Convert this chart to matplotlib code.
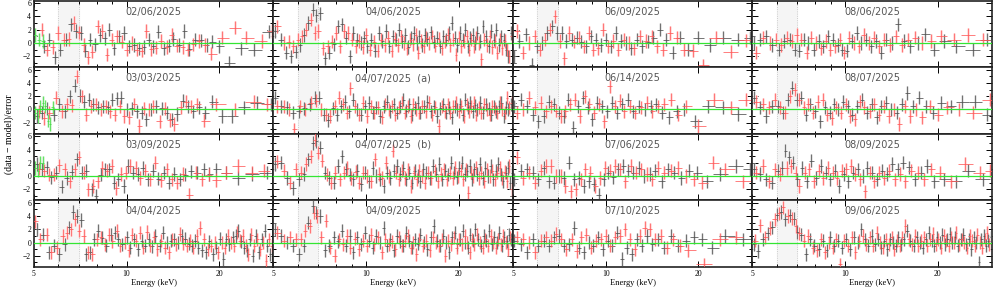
import matplotlib
matplotlib.use("Agg")
import matplotlib.pyplot as plt
import numpy as np
from matplotlib.ticker import FixedLocator, NullFormatter

# panel titles, row by row
dates = ["02/06/2025", "04/06/2025", "06/09/2025", "08/06/2025",
         "03/03/2025", "04/07/2025  (a)", "06/14/2025", "08/07/2025",
         "03/09/2025", "04/07/2025  (b)", "07/06/2025", "08/09/2025",
         "04/04/2025", "04/09/2025", "07/10/2025", "09/06/2025"]

# (energy keV, (data-model)/error)
g0206 = [(5.05, 1.2), (5.2, 0.5), (5.35, 0.3)]
k0206 = [(5.4, -0.5), (5.6, 0.5), (5.85, -2.2), (6.1, -1.0), (6.35, 0.5), (6.6, 2.8), (6.85, 1.8), (7.1, 1.5),
         (7.35, -1.2), (7.6, 0.5), (7.9, -0.2), (8.2, 1.2), (8.5, 0.7), (8.8, 2.0), (9.1, -0.8), (9.45, 1.0),
         (9.8, 1.5), (10.2, -0.5), (10.6, -0.3), (11.0, -0.8), (11.4, -0.6), (11.8, 0.5), (12.2, -0.5), (12.7, 1.7),
         (13.2, -0.8), (13.7, -0.4), (14.2, 0.6), (14.8, -0.3), (15.4, 1.8), (16.0, -0.9), (16.7, 0.5), (17.4, 0.4),
         (18.2, -0.3), (19.0, 0.2), (20.0, -0.5), (21.5, -3.0), (23.5, -0.8), (26.0, -1.0), (29.0, 1.7)]
r0206 = [(5.3, 2.0), (5.5, -1.0), (5.75, -0.6), (6.0, 1.5), (6.25, 0.5), (6.5, 0.6), (6.75, 3.0), (7.0, 1.6),
         (7.25, -0.3), (7.5, -2.2), (7.75, -1.3), (8.05, 2.5), (8.35, 1.8), (8.65, -1.8), (8.95, 0.5), (9.3, 1.0),
         (9.65, 0.2), (10.0, -1.0), (10.4, 0.0), (10.8, -1.0), (11.2, -1.2), (11.6, 1.8), (12.0, -0.9), (12.5, -0.7),
         (12.9, 0.3), (13.5, -0.6), (14.0, 1.2), (14.6, -0.4), (15.2, -0.6), (15.8, -1.0), (16.5, -0.2), (17.2, 0.3),
         (18.0, -0.3), (18.8, -1.6), (20.5, 0.8), (22.5, 2.3), (24.5, 0.8), (27.5, 0.3), (29.6, 1.8)]

g0303 = [(5.05, -0.5), (5.15, -1.0), (5.25, 0.5), (5.35, 1.0), (5.45, 0.5), (5.55, -1.7), (5.65, -2.2), (5.75, 0.3)]
k0303 = [(5.1, -1.0), (5.3, -0.5), (5.5, 0.1), (5.8, -0.8), (6.05, 0.8), (6.3, -0.3), (6.55, 2.0), (6.8, 3.6),
         (7.05, 2.1), (7.3, 1.2), (7.55, 1.5), (7.8, 0.8), (8.1, 0.3), (8.4, 0.5), (8.7, 0.3), (9.0, 1.5),
         (9.3, 1.7), (9.6, 1.8), (10.0, 0.0), (10.4, 0.2), (10.8, -0.3), (11.2, -0.5), (11.6, -1.5), (12.0, 0.0),
         (12.5, 0.5), (13.0, 0.2), (13.5, -0.5), (14.0, -1.5), (14.6, -0.7), (15.2, 1.3), (15.8, 0.5), (16.5, -0.3),
         (17.2, 0.3), (18.0, -0.5), (19.0, 1.2), (20.5, -1.0), (22.0, -1.0), (24.0, 0.3), (26.5, 1.0), (29.5, 0.8)]
r0303 = [(5.2, -0.3), (5.4, -1.3), (5.6, -0.5), (5.9, 1.8), (6.15, -0.3), (6.4, 0.8), (6.65, 0.6), (6.9, 5.0),
         (7.15, 2.0), (7.4, -0.8), (7.65, 0.5), (7.95, 0.8), (8.25, 0.0), (8.55, 0.5), (8.85, -0.3), (9.15, -0.8),
         (9.5, 0.5), (9.8, -1.0), (10.2, -1.2), (10.6, 0.8), (11.0, -2.5), (11.4, 0.2), (11.8, 0.0), (12.2, 0.5),
         (12.8, -1.8), (13.3, 0.2), (13.8, -1.6), (14.3, -2.2), (15.0, 0.3), (15.6, 1.2), (16.2, 0.5), (17.0, 0.8),
         (17.8, -1.7), (19.5, 0.8), (22.5, 0.0), (26.0, 1.2), (28.5, 0.8)]

g0309 = [(5.05, 1.2), (5.15, 0.8), (5.25, 2.0), (5.35, 2.0)]
k0309 = [(5.1, 1.8), (5.3, 1.0), (5.5, 1.3), (5.7, -0.2), (5.9, 0.5), (6.15, -1.6), (6.4, -0.3), (6.65, 0.6),
         (6.9, 2.5), (7.15, 0.5), (7.4, 0.8), (7.7, -2.0), (7.95, -3.0), (8.25, 0.2), (8.5, 1.0), (8.8, 1.0),
         (9.1, -1.0), (9.4, -0.5), (9.8, -1.5), (10.1, 1.5), (10.5, 0.5), (10.9, 0.3), (11.3, 1.2), (11.7, -0.5),
         (12.2, 0.8), (12.7, -0.4), (13.2, 0.5), (13.7, -1.0), (14.3, 0.3), (14.9, -0.5), (15.5, 0.2), (16.2, 0.7),
         (17.0, 0.5), (17.8, 1.0), (18.6, 0.3), (19.5, 1.0), (21.0, 0.5), (23.0, -0.3), (25.5, 0.3), (28.5, 0.5)]
r0309 = [(5.2, 1.1), (5.4, 0.8), (5.6, 0.2), (5.8, 0.2), (6.05, 1.6), (6.3, 1.0), (6.55, -0.8), (6.8, 1.0),
         (7.0, 2.8), (7.25, 0.5), (7.5, -2.0), (7.8, -1.5), (8.05, -0.8), (8.35, 1.2), (8.65, 0.8), (8.95, 1.5),
         (9.25, -1.8), (9.6, 0.3), (9.95, 0.5), (10.3, 1.5), (10.7, 1.2), (11.1, -0.3), (11.5, 0.8), (11.9, -0.5),
         (12.4, 2.0), (12.9, -0.6), (13.5, 1.0), (14.0, -0.5), (14.6, -1.0), (15.2, 0.3), (16.0, -2.8), (16.8, 0.5),
         (17.6, -0.5), (18.5, 0.2), (19.5, -0.6), (21.0, 0.5), (23.0, 1.5), (25.5, 0.5), (28.0, 0.8)]

k0404 = [(5.1, 2.0), (5.35, 1.2), (5.6, -1.5), (5.8, -0.5), (6.05, -1.8), (6.3, -0.3), (6.5, 2.3), (6.7, 4.6),
         (6.9, 4.0), (7.1, 3.4), (7.4, -1.8), (7.6, -1.5), (7.85, 0.5), (8.1, 1.8), (8.35, 0.7), (8.6, -0.5),
         (8.9, 1.2), (9.15, 1.5), (9.4, 0.5), (9.7, -0.3), (10.0, 0.8), (10.3, -0.8), (10.6, 0.5), (10.9, -1.0),
         (11.2, 0.3), (11.5, -0.5), (11.8, 0.5), (12.1, -0.6), (12.4, 1.0), (12.8, -0.5), (13.1, 1.5), (13.5, 0.0),
         (13.9, 0.3), (14.3, 0.5), (14.7, 0.0), (15.1, 1.0), (15.5, 0.6), (15.9, -0.2), (16.3, -0.5), (16.7, 0.3),
         (17.1, -0.8), (17.6, -1.2), (18.1, -1.5), (18.6, 0.2), (19.1, -1.8), (19.6, -0.8), (20.1, 0.6), (20.6, -2.5),
         (21.1, 0.5), (21.6, -0.3), (22.1, 0.8), (22.6, 1.0), (23.1, 1.8), (23.6, 0.2), (24.1, -0.8), (24.6, -1.2),
         (25.1, 0.5), (25.7, -2.0), (26.3, 1.0), (26.9, -1.5), (27.5, 0.5), (28.1, 1.8), (28.7, -0.5), (29.3, -1.8),
         (29.9, 1.8)]
r0404 = [(5.05, 3.2), (5.25, 0.5), (5.5, 1.2), (5.7, -1.5), (5.95, -0.8), (6.2, 1.0), (6.4, 1.5), (6.6, 2.0),
         (6.8, 3.5), (7.0, 1.8), (7.25, 1.0), (7.5, -1.5), (7.75, -1.8), (8.0, 0.5), (8.25, 0.8), (8.5, -0.3),
         (8.75, 1.2), (9.0, 0.2), (9.3, 1.8), (9.55, -0.5), (9.85, 0.0), (10.15, -1.2), (10.45, 1.2), (10.75, 0.3),
         (11.05, 1.5), (11.35, -0.8), (11.65, 1.6), (11.95, -0.5), (12.25, 0.8), (12.6, -1.0), (12.95, 0.3), (13.3, -0.8),
         (13.7, -1.5), (14.1, 0.5), (14.5, -0.3), (14.9, 1.3), (15.3, -0.2), (15.7, -0.5), (16.1, 0.3), (16.5, -0.8),
         (16.9, 1.0), (17.35, 2.2), (17.85, 0.5), (18.35, -1.0), (18.85, -0.5), (19.35, 0.0), (19.85, -1.5), (20.35, 0.0),
         (20.85, -0.8), (21.35, 1.0), (21.85, 0.0), (22.35, -0.5), (22.85, 1.5), (23.35, 0.3), (23.85, 1.0), (24.35, -0.5),
         (24.85, -1.8), (25.4, 1.2), (26.0, -0.5), (26.6, 0.5), (27.2, -1.0), (27.8, 0.0), (28.4, -2.8), (29.0, 0.5),
         (29.6, -0.5)]

k0406 = [(5.05, 1.8), (5.3, 0.5), (5.5, -1.5), (5.7, -2.0), (5.9, -1.3), (6.1, -0.3), (6.3, 1.2), (6.5, 3.0),
         (6.7, 5.0), (6.9, 4.2), (7.1, 4.5), (7.35, -2.3), (7.6, -1.5), (7.85, -0.2), (8.1, 2.5), (8.35, 2.8),
         (8.6, 0.8), (8.85, -2.0), (9.1, 1.5), (9.35, 0.5), (9.6, 0.0), (9.85, 0.8), (10.1, -0.5), (10.4, 0.5),
         (10.7, -1.2), (11.0, 1.5), (11.3, 0.3), (11.6, 1.8), (11.9, -0.5), (12.2, 1.0), (12.5, 0.5), (12.8, 2.0),
         (13.1, 0.3), (13.4, 1.2), (13.7, -0.6), (14.0, 0.8), (14.3, 1.5), (14.6, 0.0), (14.9, 1.0), (15.2, -0.3),
         (15.5, 1.2), (15.8, 0.6), (16.2, 1.6), (16.6, 0.2), (17.0, 0.8), (17.4, -0.5), (17.8, 1.0), (18.2, 0.5),
         (18.6, 1.5), (19.0, 3.0), (19.4, 0.8), (19.8, -0.3), (20.2, 1.5), (20.6, 0.5), (21.0, 2.0), (21.4, -0.5),
         (21.8, 0.8), (22.2, 1.2), (22.6, 0.0), (23.0, 1.5), (23.5, 0.3), (24.0, 2.5), (24.5, 1.0), (25.0, -0.5),
         (25.5, 1.8), (26.0, 0.5), (26.5, 2.0), (27.0, -0.3), (27.5, 1.0), (28.0, 0.5), (28.5, -1.0), (29.0, -2.0),
         (29.5, 1.5)]
r0406 = [(5.15, 2.5), (5.4, 0.0), (5.6, 0.2), (5.8, -0.5), (6.0, 0.5), (6.2, 1.0), (6.4, 2.0), (6.6, 3.5),
         (6.8, 1.5), (7.0, 1.8), (7.25, -0.8), (7.5, -0.5), (7.75, 0.2), (8.0, 1.5), (8.25, -0.5), (8.5, 1.8),
         (8.75, 1.5), (9.0, 0.5), (9.25, -0.5), (9.5, 0.3), (9.75, -0.6), (10.0, 1.2), (10.3, -1.0), (10.6, 0.2),
         (10.9, -1.2), (11.2, 0.5), (11.5, -0.3), (11.8, 0.8), (12.1, -1.2), (12.4, 0.6), (12.7, -0.3), (13.0, 1.0),
         (13.3, 0.0), (13.6, -0.8), (13.9, 0.5), (14.2, -0.2), (14.5, 1.2), (14.8, -1.5), (15.1, 0.3), (15.4, -0.5),
         (15.7, 0.8), (16.0, 0.0), (16.4, 1.0), (16.8, -0.4), (17.2, 0.6), (17.6, -0.8), (18.0, 0.2), (18.4, 1.2),
         (18.8, -0.3), (19.2, 0.5), (19.6, -1.8), (20.0, 0.8), (20.4, -0.5), (20.8, 0.3), (21.2, 1.0), (21.6, -1.0),
         (22.0, 0.5), (22.4, -0.5), (22.8, 0.8), (23.2, 0.0), (23.7, -2.5), (24.2, 0.5), (24.7, -0.3), (25.2, 1.0),
         (25.7, -0.6), (26.2, 0.3), (26.7, -1.5), (27.2, 0.5), (27.7, -0.8), (28.2, 0.3), (28.7, -1.0), (29.2, -2.0),
         (29.7, 1.0)]

k0407a = [(5.05, 1.8), (5.3, 0.5), (5.55, 0.3), (5.8, -0.5), (6.05, -0.3), (6.3, 0.2), (6.55, 0.8), (6.8, 1.8),
          (7.05, 1.8), (7.3, -0.8), (7.55, -1.6), (7.8, 0.2), (8.05, -0.8), (8.3, 0.5), (8.55, 1.2), (8.8, -0.3),
          (9.1, 1.5), (9.35, 0.0), (9.6, -0.8), (9.9, 0.5), (10.2, 1.0), (10.5, -0.5), (10.8, 0.3), (11.1, -1.0),
          (11.4, 0.5), (11.7, 1.2), (12.0, -0.3), (12.3, 0.8), (12.6, -0.5), (12.9, 0.5), (13.2, 1.5), (13.5, -0.2),
          (13.8, 0.8), (14.1, -0.8), (14.4, 0.3), (14.7, 1.0), (15.0, -0.5), (15.4, 0.5), (15.8, 1.2), (16.2, -0.3),
          (16.6, 0.5), (17.0, -1.0), (17.4, 0.2), (17.8, 0.8), (18.2, -0.5), (18.6, 0.3), (19.0, -1.2), (19.4, 0.5),
          (19.8, 0.0), (20.2, 0.8), (20.6, -0.8), (21.0, 1.5), (21.4, 0.3), (21.8, 1.0), (22.2, -0.3), (22.6, 0.6),
          (23.0, 0.0), (23.5, 1.0), (24.0, -0.5), (24.5, 0.8), (25.0, 0.2), (25.5, -0.8), (26.0, 0.5), (26.5, -0.3),
          (27.0, 0.5), (27.5, 1.0), (28.0, -1.0), (28.5, 0.3), (29.0, 0.0), (29.5, 0.8)]
r0407a = [(5.15, 0.5), (5.4, 0.4), (5.6, 0.0), (5.85, -3.0), (6.1, 0.5), (6.35, 0.0), (6.6, 1.0), (6.9, 1.3),
          (7.15, 0.0), (7.4, -0.8), (7.65, -1.0), (7.9, 0.5), (8.15, 1.8), (8.4, 0.8), (8.65, -0.5), (8.9, 3.2),
          (9.2, 0.5), (9.45, -0.8), (9.75, 1.0), (10.05, -1.0), (10.35, 0.5), (10.65, -0.5), (10.95, 0.3), (11.25, -1.2),
          (11.55, 0.8), (11.85, 0.0), (12.15, 0.5), (12.45, -0.8), (12.75, 0.3), (13.05, 1.0), (13.35, -0.5), (13.65, 0.5),
          (13.95, -1.0), (14.25, 0.8), (14.55, 0.0), (14.85, -0.5), (15.2, 0.5), (15.6, -0.3), (16.0, 1.0), (16.4, -0.8),
          (16.8, 0.3), (17.2, -2.5), (17.6, 0.5), (18.0, -0.3), (18.4, 0.8), (18.8, -0.5), (19.2, 0.5), (19.6, 1.0),
          (20.0, -0.3), (20.4, 0.5), (20.8, -1.0), (21.2, 0.8), (21.6, -0.3), (22.0, 0.5), (22.4, 1.0), (22.8, -0.8),
          (23.2, 0.3), (23.7, -0.5), (24.2, 0.8), (24.7, 0.0), (25.2, -0.8), (25.7, 0.5), (26.2, 0.2), (26.7, -0.5),
          (27.2, 1.0), (27.7, 0.0), (28.2, -0.5), (28.7, 1.8), (29.2, 0.3), (29.7, 1.0)]

k0407b = [(5.05, 1.8), (5.3, 2.0), (5.55, -0.3), (5.8, -1.8), (6.05, -0.5), (6.3, 0.3), (6.5, 2.5), (6.7, 5.0),
          (6.9, 5.3), (7.1, 4.3), (7.35, 0.5), (7.6, -0.3), (7.85, -1.0), (8.1, 1.5), (8.35, 3.0), (8.6, 1.0),
          (8.85, 0.2), (9.1, -0.5), (9.35, 0.8), (9.6, -1.2), (9.9, 0.5), (10.2, -0.8), (10.5, 1.2), (10.8, 0.0),
          (11.1, -0.5), (11.4, -1.5), (11.7, 0.5), (12.0, -0.3), (12.3, 0.8), (12.6, 1.5), (12.9, 0.3), (13.2, 1.2),
          (13.5, -0.5), (13.8, 0.5), (14.1, -1.0), (14.4, 0.8), (14.7, 0.0), (15.0, -0.8), (15.3, 1.0), (15.7, 0.5),
          (16.1, -0.3), (16.5, 1.5), (16.9, 0.3), (17.3, 1.8), (17.7, -0.5), (18.1, 0.8), (18.5, 0.2), (18.9, 2.0),
          (19.3, 0.5), (19.7, -0.2), (20.1, 1.2), (20.5, 2.0), (20.9, 0.3), (21.3, 0.8), (21.7, 1.5), (22.1, -0.5),
          (22.5, 1.0), (22.9, 0.3), (23.4, 1.8), (23.9, -0.3), (24.4, 1.2), (24.9, 0.0), (25.4, 1.5), (25.9, -0.5),
          (26.4, 0.8), (26.9, 1.8), (27.4, 0.2), (27.9, -0.8), (28.4, 0.5), (28.9, 1.2), (29.4, -1.0), (29.9, 0.5)]
r0407b = [(5.15, 2.2), (5.4, 0.8), (5.65, -1.0), (5.9, 1.0), (6.15, 0.5), (6.4, 1.8), (6.6, 3.0), (6.8, 5.5),
          (7.0, 3.5), (7.2, 2.3), (7.45, 0.2), (7.7, -1.0), (7.95, 0.5), (8.2, -0.5), (8.45, 0.5), (8.7, 1.2),
          (8.95, -0.3), (9.25, 0.6), (9.5, -1.0), (9.8, 0.5), (10.1, 0.0), (10.4, -0.8), (10.7, 2.5), (11.0, 0.3),
          (11.3, -0.3), (11.6, 2.0), (11.9, 0.0), (12.2, 3.8), (12.5, 0.5), (12.8, -0.5), (13.1, 0.8), (13.4, -0.3),
          (13.7, 1.0), (14.0, -1.5), (14.3, 0.5), (14.6, -0.5), (14.9, 0.8), (15.2, 0.0), (15.5, -1.0), (15.9, 0.5),
          (16.3, -0.3), (16.7, 0.8), (17.1, -0.8), (17.5, 0.3), (17.9, 1.0), (18.3, -0.5), (18.7, 0.5), (19.1, -0.3),
          (19.5, 1.2), (19.9, 0.0), (20.3, 0.8), (20.7, -0.5), (21.1, 1.0), (21.5, -2.5), (21.9, 0.5), (22.3, 0.0),
          (22.7, 1.3), (23.2, -0.3), (23.7, 0.5), (24.2, -0.8), (24.7, 1.0), (25.2, 0.0), (25.7, 0.8), (26.2, -0.5),
          (26.7, 0.5), (27.2, 1.2), (27.7, -0.3), (28.2, 0.6), (28.7, -0.8), (29.2, 1.5), (29.7, -2.0)]

k0409 = [(5.05, 2.0), (5.3, 1.0), (5.55, 0.0), (5.8, -0.5), (6.05, -1.8), (6.3, -0.5), (6.5, 3.0), (6.7, 5.5),
         (6.9, 4.5), (7.1, 4.0), (7.35, -1.2), (7.6, -0.5), (7.85, 0.8), (8.1, 0.2), (8.35, 1.8), (8.6, -0.5),
         (8.85, 1.0), (9.1, -1.5), (9.35, 0.8), (9.6, -0.3), (9.9, 1.5), (10.2, 0.3), (10.5, -0.8), (10.8, 1.0),
         (11.1, 0.0), (11.4, 2.2), (11.7, -0.5), (12.0, 0.5), (12.3, -1.2), (12.6, 1.0), (12.9, 0.2), (13.2, -0.5),
         (13.5, 1.5), (13.8, 0.3), (14.1, -0.8), (14.4, 0.5), (14.7, -0.2), (15.0, 1.2), (15.4, 0.0), (15.8, -1.0),
         (16.2, 0.8), (16.6, 2.5), (17.0, 0.3), (17.4, -0.5), (17.8, 1.0), (18.2, 0.0), (18.6, -1.5), (19.0, 0.8),
         (19.4, 1.5), (19.8, -0.3), (20.2, 0.5), (20.6, 1.8), (21.0, 0.0), (21.4, -0.8), (21.8, 1.2), (22.2, 0.3),
         (22.6, 2.0), (23.1, 0.5), (23.6, -0.5), (24.1, 1.0), (24.6, 0.3), (25.1, 1.8), (25.6, -0.3), (26.1, 0.8),
         (26.6, 0.0), (27.1, 1.5), (27.6, -0.5), (28.1, 0.8), (28.6, 0.2), (29.1, 1.2), (29.6, 0.5)]
r0409 = [(5.15, 1.5), (5.4, 0.3), (5.65, 0.8), (5.9, 0.5), (6.15, 0.5), (6.35, 1.8), (6.55, 2.5), (6.75, 4.5),
         (6.95, 4.0), (7.15, 0.8), (7.4, 3.3), (7.65, -0.8), (7.9, -2.0), (8.15, 0.5), (8.4, -0.3), (8.65, 1.0),
         (8.9, -0.8), (9.2, 0.6), (9.45, -1.0), (9.75, 0.3), (10.05, -0.5), (10.35, 1.2), (10.65, -0.3), (10.95, 0.8),
         (11.25, -1.5), (11.55, 0.5), (11.85, -0.3), (12.15, 0.2), (12.45, -1.0), (12.75, 0.8), (13.05, -0.5), (13.35, 0.3),
         (13.65, 1.0), (13.95, -0.8), (14.25, 0.0), (14.55, -1.8), (14.9, 0.5), (15.3, -0.5), (15.7, 0.3), (16.1, -1.2),
         (16.5, 0.8), (16.9, 0.0), (17.3, -0.5), (17.7, 0.5), (18.1, -2.0), (18.5, 0.3), (18.9, -0.3), (19.3, 0.8),
         (19.7, -0.8), (20.1, 0.5), (20.5, -0.3), (20.9, 1.0), (21.3, 0.0), (21.7, -1.5), (22.1, 0.5), (22.5, -0.3),
         (22.9, 1.2), (23.4, 0.0), (23.9, -0.8), (24.4, 0.5), (24.9, -0.5), (25.4, 1.0), (25.9, 0.0), (26.4, -0.8),
         (26.9, 0.5), (27.4, -0.3), (27.9, 1.0), (28.4, 0.0), (28.9, -1.0), (29.4, 0.8)]

k0609 = [(5.05, -2.0), (5.25, 0.3), (5.5, 1.3), (5.75, -3.3), (6.0, -0.5), (6.2, 0.0), (6.45, 1.5), (6.7, 2.5),
         (6.95, 1.5), (7.2, 1.5), (7.45, 0.3), (7.75, 0.5), (8.05, 0.8), (8.35, 0.2), (8.65, -0.5), (8.95, 1.0),
         (9.3, 0.5), (9.65, -0.3), (10.0, 0.5), (10.4, -0.5), (10.8, 1.5), (11.2, 0.3), (11.65, 0.0), (12.1, -0.8),
         (12.6, 0.5), (13.1, -0.5), (13.7, 0.2), (14.3, 0.8), (15.0, 2.0), (15.7, 0.5), (16.5, -1.5), (17.4, 0.8),
         (18.5, -1.0), (20.0, 0.8), (21.8, -0.3), (24.0, 0.8), (27.0, 0.5), (29.5, 0.8)]
r0609 = [(5.15, 1.8), (5.4, -1.5), (5.65, 0.0), (5.9, 1.0), (6.1, -1.0), (6.35, 0.5), (6.6, 2.0), (6.85, 4.0),
         (7.1, 0.3), (7.35, -2.3), (7.6, 1.5), (7.9, 0.2), (8.2, 0.8), (8.5, -0.5), (8.8, 1.5), (9.1, -1.0),
         (9.45, -0.8), (9.8, 2.0), (10.2, -0.5), (10.6, 0.3), (11.0, -1.0), (11.45, 0.5), (11.9, 0.0), (12.4, -0.8),
         (12.9, 1.0), (13.5, 0.3), (14.1, 1.0), (14.7, -0.5), (15.4, -1.0), (16.2, 1.5), (17.0, 0.8), (18.0, -1.0),
         (19.2, -1.2), (20.7, -3.4), (22.8, 0.8), (25.5, -1.3), (28.5, 0.4)]

k0614 = [(5.05, 0.5), (5.3, 1.5), (5.55, 0.5), (5.8, -0.8), (6.05, -1.8), (6.3, -1.0), (6.55, 1.2), (6.8, 0.8),
         (7.05, -0.5), (7.3, -1.0), (7.55, 1.5), (7.85, -2.8), (8.15, 0.5), (8.45, 1.8), (8.75, 0.3), (9.05, -1.5),
         (9.4, 1.0), (9.75, 0.5), (10.1, -0.3), (10.5, 1.0), (10.9, -0.5), (11.3, 0.8), (11.8, 1.5), (12.3, -0.3),
         (12.8, 0.5), (13.4, 0.0), (14.0, 0.5), (14.6, 0.8), (15.3, -0.5), (16.1, -1.2), (17.0, -0.3), (18.0, 0.0),
         (19.5, -1.8), (21.5, 0.5), (24.0, 0.3), (27.0, -0.7)]
r0614 = [(5.15, -0.5), (5.4, 0.0), (5.65, 1.8), (5.9, 0.3), (6.15, 1.0), (6.4, -0.3), (6.65, 0.5), (6.9, -0.2),
         (7.15, -1.0), (7.4, -0.3), (7.65, 0.8), (7.95, 1.5), (8.25, -1.0), (8.55, 2.0), (8.85, 0.8), (9.2, -0.5),
         (9.55, 0.8), (9.9, -1.8), (10.3, 3.5), (10.7, 0.5), (11.1, 1.3), (11.5, -0.3), (12.0, 0.5), (12.5, -0.5),
         (13.0, 0.3), (13.6, 1.0), (14.2, -0.3), (14.8, 0.5), (15.5, 0.8), (16.3, 1.5), (17.2, -0.8), (18.3, 0.5),
         (20.0, -2.5), (22.5, 1.5), (25.5, 0.3), (28.5, 1.5)]

k0706 = [(5.05, -0.5), (5.3, 0.8), (5.55, 1.0), (5.8, 0.5), (6.05, -0.5), (6.3, 1.2), (6.55, -0.8), (6.8, -1.0),
         (7.05, 0.0), (7.3, -0.3), (7.6, 2.0), (7.9, -0.5), (8.2, -0.3), (8.5, -1.5), (8.8, -0.8), (9.15, -1.2),
         (9.5, -2.8), (9.85, -0.5), (10.2, 0.5), (10.6, -0.2), (11.0, 1.0), (11.4, 1.5), (11.85, 0.8), (12.3, 0.5),
         (12.8, 1.2), (13.3, 0.0), (13.9, 0.3), (14.5, 0.8), (15.2, -0.8), (15.9, 1.0), (16.7, 0.5), (17.6, -0.3),
         (18.6, 0.8), (19.8, 0.5), (21.3, -0.8), (23.5, 0.3), (26.5, 1.5), (29.5, 1.0)]
r0706 = [(5.15, 2.8), (5.4, -0.3), (5.65, 0.5), (5.9, -1.0), (6.15, 0.8), (6.4, 1.5), (6.65, 1.5), (6.9, 0.0),
         (7.15, 0.0), (7.4, -1.5), (7.7, -2.3), (8.0, -2.0), (8.3, -0.5), (8.6, 1.0), (8.9, 0.5), (9.25, -1.5),
         (9.6, -0.3), (9.95, 1.2), (10.35, 0.8), (10.75, 1.5), (11.15, 1.0), (11.6, -0.8), (12.05, 1.5), (12.55, 0.5),
         (13.05, 1.0), (13.6, 0.3), (14.2, -0.5), (14.8, 1.2), (15.5, 0.5), (16.3, 0.8), (17.2, 1.2), (18.2, 0.0),
         (19.3, -0.5), (20.6, -1.0), (22.3, 2.0), (24.5, 1.0), (28.0, -0.8)]

k0710 = [(5.05, 0.3), (5.3, -0.3), (5.55, -1.5), (5.8, 0.5), (6.05, -0.5), (6.3, 0.3), (6.55, -0.5), (6.8, 0.8),
         (7.05, 1.0), (7.3, -0.5), (7.6, -0.3), (7.9, 2.2), (8.2, -0.8), (8.5, -1.5), (8.8, 0.0), (9.1, -0.5),
         (9.45, 0.8), (9.8, -1.0), (10.15, 0.3), (10.5, -0.5), (10.9, 1.5), (11.3, -2.5), (11.7, -0.8), (12.15, -1.8),
         (12.6, 0.5), (13.1, -0.5), (13.6, 1.0), (14.2, -0.3), (14.8, 0.5), (15.5, -0.8), (16.3, 1.0), (17.2, -0.5),
         (18.2, 0.3), (19.3, 0.8), (20.6, 0.5), (22.2, -0.8), (24.5, 1.0), (28.0, 0.5)]
r0710 = [(5.15, 0.8), (5.4, 0.5), (5.65, 0.0), (5.9, -1.5), (6.15, 0.3), (6.4, 0.8), (6.65, 0.3), (6.9, 1.3),
         (7.15, 0.5), (7.45, -1.0), (7.75, 0.5), (8.05, -1.3), (8.35, 0.8), (8.65, 1.2), (8.95, -0.8), (9.3, 0.3),
         (9.65, 0.5), (10.0, 1.0), (10.35, -0.5), (10.75, 0.8), (11.15, 1.0), (11.55, 2.0), (12.0, 0.5), (12.45, -1.0),
         (12.9, 1.0), (13.4, 2.2), (13.9, 2.0), (14.5, 0.5), (15.1, 1.0), (15.8, -0.8), (16.6, 0.5), (17.5, -0.5),
         (18.5, -1.2), (20.8, -3.3), (23.5, 0.5), (26.5, 0.8)]

k0806 = [(5.05, 0.0), (5.3, 0.5), (5.55, 1.0), (5.8, -0.3), (6.1, -1.0), (6.35, 0.3), (6.6, 0.5), (6.85, -1.0),
         (7.1, -1.2), (7.35, 0.5), (7.6, 0.0), (7.9, -1.0), (8.2, 0.3), (8.5, -0.5), (8.8, 1.0), (9.1, 0.5),
         (9.45, -0.3), (9.8, -1.0), (10.15, -1.2), (10.5, 0.3), (10.9, 1.5), (11.3, 0.0), (11.7, 0.5), (12.15, -0.5),
         (12.6, 0.3), (13.1, -1.5), (13.6, 0.5), (14.2, 0.0), (14.8, 2.8), (15.5, 0.3), (16.3, -0.5), (17.2, 0.0),
         (18.2, 1.3), (19.4, -1.0), (21.0, 0.3), (23.0, -0.5), (26.0, -1.0), (29.0, 0.5)]
r0806 = [(5.15, -1.5), (5.4, 0.8), (5.7, 0.0), (5.95, 0.5), (6.2, -0.3), (6.45, 0.8), (6.7, 0.3), (6.95, 1.2),
         (7.2, 0.5), (7.5, -1.5), (7.75, 0.8), (8.05, 0.0), (8.35, -0.8), (8.65, 0.3), (8.95, -1.0), (9.3, -0.5),
         (9.6, 0.5), (9.95, -1.5), (10.3, 0.8), (10.7, 0.0), (11.1, -0.5), (11.5, 1.2), (11.95, 0.0), (12.4, 0.8),
         (12.9, -0.5), (13.4, 0.5), (14.0, -0.3), (14.6, 1.0), (15.3, -0.3), (16.0, 0.5), (16.9, 0.8), (17.8, 0.0),
         (19.0, 0.3), (20.5, 1.0), (22.5, 0.5), (25.0, 1.2), (28.0, 0.5)]

k0807 = [(5.05, 1.8), (5.3, 0.3), (5.55, -1.0), (5.8, 0.5), (6.05, 0.5), (6.3, -0.5), (6.5, 1.5), (6.7, 3.3),
         (6.95, 1.5), (7.2, 1.8), (7.45, -0.8), (7.7, 0.8), (8.0, -0.3), (8.3, -1.8), (8.6, 0.3), (8.9, -0.5),
         (9.2, 0.8), (9.5, 0.0), (9.85, 1.2), (10.2, 0.5), (10.55, -0.8), (10.95, 0.5), (11.35, 1.5), (11.75, -0.5),
         (12.2, 0.8), (12.65, -1.2), (13.1, 0.5), (13.6, 1.0), (14.1, 0.0), (14.7, -0.5), (15.3, 0.8), (15.9, 2.5),
         (16.6, 0.5), (17.4, 1.8), (18.3, 0.5), (19.3, -0.5), (20.5, 1.0), (22.0, 0.5), (24.0, 1.2), (26.5, 1.2),
         (29.0, -0.8)]
r0807 = [(5.15, 1.2), (5.4, 0.8), (5.65, 0.3), (5.9, 1.5), (6.15, 0.3), (6.4, -0.5), (6.6, 2.0), (6.85, 3.0),
         (7.1, 1.5), (7.35, 0.3), (7.6, 0.8), (7.85, -0.5), (8.15, 1.2), (8.45, 1.5), (8.75, -0.8), (9.05, -1.3),
         (9.35, 0.3), (9.7, -0.5), (10.05, 0.8), (10.4, -1.0), (10.75, -1.5), (11.15, 1.2), (11.55, 0.3), (12.0, -0.3),
         (12.45, 0.8), (12.9, -0.8), (13.35, 0.5), (13.85, -1.0), (14.4, 0.0), (15.0, -2.2), (15.6, 0.5), (16.3, -1.0),
         (17.0, 0.0), (17.8, -1.2), (18.8, 0.5), (20.0, -0.8), (21.5, 0.3), (23.5, 0.0), (26.0, -0.5), (29.5, 1.5)]

k0809 = [(5.05, 1.0), (5.3, 0.3), (5.55, -0.5), (5.8, -1.0), (6.05, 0.8), (6.25, 1.2), (6.4, 3.8), (6.55, 2.8),
         (6.75, 2.0), (7.0, -0.5), (7.25, 1.2), (7.5, -0.8), (7.75, 2.3), (8.05, -0.3), (8.35, 1.5), (8.65, 0.5),
         (8.95, -0.5), (9.25, 0.8), (9.55, -1.5), (9.9, 0.3), (10.25, -0.8), (10.6, 0.5), (11.0, 1.0), (11.4, 0.0),
         (11.8, 1.2), (12.25, 0.5), (12.7, -0.5), (13.2, 0.8), (13.7, 0.3), (14.2, 1.8), (14.8, 1.0), (15.4, 2.0),
         (16.1, 1.3), (16.8, -0.5), (17.6, 0.5), (18.5, 1.5), (19.5, -0.8), (21.0, -0.5), (23.0, -0.8), (25.0, 0.8),
         (28.0, -0.5)]
r0809 = [(5.15, 0.5), (5.4, 1.5), (5.65, -0.8), (5.9, 1.0), (6.15, 0.3), (6.45, 1.2), (6.65, 1.5), (6.9, 0.5),
         (7.1, -1.5), (7.4, 0.5), (7.65, 1.0), (7.9, -0.8), (8.2, 0.8), (8.5, -0.3), (8.8, 1.2), (9.1, 0.5),
         (9.4, -0.3), (9.75, 0.8), (10.1, 1.0), (10.45, 1.5), (10.8, 0.3), (11.2, -0.5), (11.6, -2.3), (12.0, 0.5),
         (12.45, -0.8), (12.9, 0.5), (13.4, -0.3), (13.9, 0.8), (14.5, -0.5), (15.1, 0.3), (15.7, -0.8), (16.4, 0.8),
         (17.2, 0.5), (18.1, -0.5), (19.0, 1.0), (20.3, 0.5), (22.0, -0.8), (24.5, 1.8), (27.5, 0.5), (29.5, 0.8)]

k0906 = [(5.05, -0.3), (5.2, -1.3), (5.4, 0.5), (5.6, 1.4), (5.8, 2.3), (6.0, 4.2), (6.2, 4.6), (6.4, 3.5),
         (6.6, 4.1), (6.8, 3.6), (7.0, 1.6), (7.2, 1.2), (7.45, -1.8), (7.7, 0.5), (7.95, -0.5), (8.2, -1.0),
         (8.45, 0.3), (8.7, -1.2), (8.95, 0.8), (9.2, -0.5), (9.5, 0.3), (9.8, -0.8), (10.1, 0.5), (10.4, -1.0),
         (10.7, 0.8), (11.0, 0.0), (11.3, 2.0), (11.6, 0.5), (11.9, -0.5), (12.2, 1.0), (12.5, -0.3), (12.8, 0.5),
         (13.1, -0.8), (13.4, 0.3), (13.7, -1.0), (14.0, 0.5), (14.3, 0.0), (14.6, -0.5), (14.9, 0.8), (15.2, -0.3),
         (15.5, 0.5), (15.9, 1.8), (16.3, 0.3), (16.7, -0.5), (17.1, 0.8), (17.5, 0.0), (17.9, -0.8), (18.3, 0.5),
         (18.7, 1.5), (19.1, 0.3), (19.5, -0.5), (19.9, 0.8), (20.3, 0.0), (20.7, 1.2), (21.1, -0.3), (21.5, 0.5),
         (21.9, 1.3), (22.3, 0.0), (22.7, 0.8), (23.2, -0.5), (23.7, 0.5), (24.2, 1.2), (24.7, -0.3), (25.2, 0.5),
         (25.7, -1.0), (26.2, 0.8), (26.7, 0.0), (27.2, -3.0), (27.7, 0.5), (28.2, 1.0), (28.7, -0.5), (29.2, 0.3),
         (29.7, 0.8)]
r0906 = [(5.1, 0.3), (5.3, 2.6), (5.5, 0.8), (5.7, 2.2), (5.9, 3.5), (6.1, 4.4), (6.3, 5.3), (6.5, 4.0),
         (6.7, 3.6), (6.9, 2.5), (7.1, 1.4), (7.35, 0.3), (7.6, 1.0), (7.85, -0.8), (8.1, -1.2), (8.35, 0.5),
         (8.6, -1.5), (8.85, 0.0), (9.1, -0.8), (9.35, 0.5), (9.6, -3.3), (9.9, 0.3), (10.2, -0.5), (10.5, 0.8),
         (10.8, -1.5), (11.1, 0.3), (11.4, 1.0), (11.7, -0.3), (12.0, 0.8), (12.35, -0.5), (12.65, 1.5), (12.95, 0.0),
         (13.25, -0.8), (13.55, 0.5), (13.85, -0.3), (14.15, 0.8), (14.45, -1.0), (14.75, 0.3), (15.05, -0.5), (15.35, 0.8),
         (15.7, 2.5), (16.1, 0.5), (16.5, -0.3), (16.9, 1.0), (17.3, -0.5), (17.7, 0.3), (18.1, 0.8), (18.5, -0.5),
         (18.9, 0.5), (19.3, 1.3), (19.7, -0.3), (20.1, 0.5), (20.5, -0.8), (20.9, 1.0), (21.3, 0.3), (21.7, -0.5),
         (22.1, 0.8), (22.5, 0.0), (22.9, 1.5), (23.4, -0.3), (23.9, 0.5), (24.4, 0.0), (24.9, -0.8), (25.4, 1.0),
         (25.9, 0.3), (26.4, -0.5), (26.9, 1.2), (27.4, 0.0), (27.9, -0.8), (28.4, 0.5), (28.9, 1.5), (29.4, -0.3)]

# grid order (row by row): black, red, green-or-None
panels = [(k0206, r0206, g0206), (k0406, r0406, None), (k0609, r0609, None), (k0806, r0806, None),
          (k0303, r0303, g0303), (k0407a, r0407a, None), (k0614, r0614, None), (k0807, r0807, None),
          (k0309, r0309, g0309), (k0407b, r0407b, None), (k0706, r0706, None), (k0809, r0809, None),
          (k0404, r0404, None), (k0409, r0409, None), (k0710, r0710, None), (k0906, r0906, None)]

serif = "Liberation Serif"


def binWidths(e):
    # half widths from the midpoints between neighbouring bins
    mid = (e[1:] + e[:-1]) / 2
    lo = np.concatenate([[e[0] - (mid[0] - e[0])], mid])
    hi = np.concatenate([mid, [e[-1] + (e[-1] - mid[-1])]])
    return e - lo, hi - e


def plotResiduals(ax, pts, col, light):
    e, r = np.array(pts).T
    xl, xh = binWidths(e)
    ax.errorbar(e, r, yerr=1, fmt="none", ecolor=light, elinewidth=2.0, zorder=2)
    ax.errorbar(e, r, xerr=[xl, xh], yerr=1, fmt="none", ecolor=col, elinewidth=0.55, zorder=3)


fig, axes = plt.subplots(4, 4, figsize=(9.96, 3.0), dpi=100)
fig.subplots_adjust(left=0.034, right=0.996, top=0.997, bottom=0.11, wspace=0, hspace=0)

for i, ax in enumerate(axes.flat):
    black, red, green = panels[i]
    ax.axvspan(6.0, 7.0, color="#f5f5f5", zorder=0)
    ax.axvline(6.0, color="#c0c0c0", lw=0.6, ls=":", zorder=1)
    ax.axvline(7.0, color="#c0c0c0", lw=0.6, ls=":", zorder=1)
    plotResiduals(ax, black, "#505050", "#e2e2e2")
    plotResiduals(ax, red, "#ff5a5a", "#ffdada")
    if green is not None:
        plotResiduals(ax, green, "#44dd44", "#d6f2d6")
    ax.axhline(0, color="#33e633", lw=0.9, zorder=4)
    ax.set_xscale("log")
    ax.set_xlim(5, 30)
    ax.set_ylim(-3.7, 6.35)
    ax.xaxis.set_major_locator(FixedLocator([5, 10, 20]))
    ax.xaxis.set_minor_locator(FixedLocator([6, 7, 8, 9]))
    ax.xaxis.set_minor_formatter(NullFormatter())
    ax.yaxis.set_major_locator(FixedLocator([-2, 0, 2, 4, 6]))
    ax.yaxis.set_minor_locator(FixedLocator([-3, -1, 1, 3, 5]))
    ax.tick_params(which="both", direction="in", top=True, right=True, width=0.7, labelsize=5.5, pad=2)
    ax.tick_params(which="major", length=4)
    ax.tick_params(which="minor", length=2)
    for s in ax.spines.values():
        s.set_linewidth(1.2)
        s.set_color("#222222")
    ax.text(0.5, 0.84, dates[i], transform=ax.transAxes, ha="center", va="center",
            fontsize=7, color="#555555", family="DejaVu Sans")
    row, col = divmod(i, 4)
    if row == 3:
        ax.set_xticklabels(["5", "10", "20"], family=serif)
        ax.set_xlabel("Energy (keV)", family=serif, fontsize=6, labelpad=1)
    else:
        ax.set_xticklabels([])
    if col == 0:
        ax.set_yticklabels(["\u22122", "0", "2", "4", "6"], family=serif)
    else:
        ax.set_yticklabels([])

fig.text(0.009, 0.553, "(data \u2212 model)/error", rotation=90, ha="center", va="center",
         family=serif, fontsize=7)

plt.savefig("out.png", dpi=100)
